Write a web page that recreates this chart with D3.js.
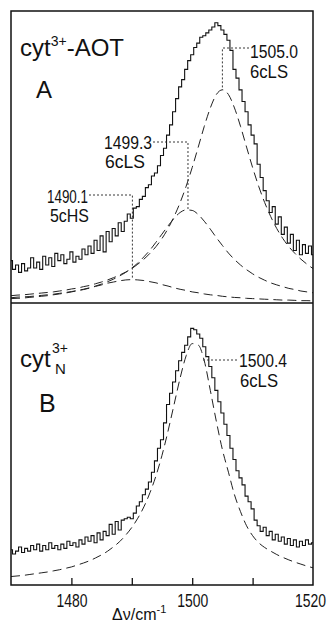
<!DOCTYPE html>
<html>
<head>
<meta charset="utf-8">
<script src="https://cdn.jsdelivr.net/npm/d3@7"></script>
<style>
  body { margin: 0; background: #fff; }
  svg { display: block; }
  text { font-family: "Liberation Sans", Arial, sans-serif; fill: #111; }
</style>
</head>
<body>
<div id="chart"></div>
<script>
// wavenumber grids (cm-1)
var specW = d3.range(1470, 1520.001, 0.5);
var fitW = d3.range(1470, 1520.001, 1);

// panel A: cyt3+-AOT measured spectrum (0.5 cm-1 steps)
var specA = [
  14.5, 11.5, 13.0, 10.5, 13.5, 11.0, 12.0, 15.5, 12.0, 14.0,
  11.5, 16.0, 13.0, 15.5, 12.5, 17.0, 14.5, 16.5, 13.5, 15.0,
  17.5, 14.0, 16.0, 15.0, 18.5, 16.5, 19.5, 17.0, 21.5, 18.0,
  23.0, 17.5, 24.5, 21.0, 25.5, 23.0, 27.5, 24.5, 28.0, 30.5,
  29.0, 32.5, 33.0, 35.5, 36.5, 39.5, 40.5, 43.5, 44.5, 47.0,
  50.5, 53.0, 57.5, 61.0, 65.5, 70.0, 74.0, 76.5, 80.0, 83.0,
  85.0, 87.5, 89.0, 91.0, 91.5, 92.5, 93.5, 94.5, 96.0, 95.0,
  93.5, 92.0, 90.0, 86.5, 80.0, 77.0, 73.0, 69.0, 65.5, 61.0,
  57.5, 54.5, 47.5, 43.0, 38.5, 35.0, 31.0, 33.0, 27.0, 29.5,
  23.5, 26.0, 20.5, 23.5, 18.0, 21.5, 16.5, 20.0, 17.0, 19.5,
  16.5
];

// panel A: fitted component bands (1 cm-1 steps)
var bandA1490 = [
  1.5, 1.6, 1.7, 1.9, 2.1, 2.3, 2.5, 2.8, 3.1, 3.4,
  3.8, 4.2, 4.6, 5.1, 5.7, 6.2, 6.8, 7.2, 7.6, 7.9,
  8.0, 7.9, 7.7, 7.3, 6.9, 6.3, 5.8, 5.2, 4.7, 4.3,
  3.8, 3.5, 3.1, 2.8, 2.6, 2.3, 2.1, 1.9, 1.8, 1.6,
  1.5, 1.4, 1.3, 1.2, 1.1, 1.0, 1.0, 0.9, 0.8, 0.8, 0.7
];
var bandA1499 = [
  1.8, 2.0, 2.1, 2.2, 2.4, 2.6, 2.8, 3.0, 3.3, 3.6,
  3.9, 4.3, 4.7, 5.2, 5.8, 6.5, 7.3, 8.2, 9.3, 10.5,
  12.0, 13.7, 15.8, 18.1, 20.8, 23.6, 26.4, 29.0, 31.0, 31.9,
  31.7, 30.3, 28.0, 25.3, 22.4, 19.7, 17.1, 14.9, 13.0, 11.4,
  10.0, 8.8, 7.8, 6.9, 6.2, 5.6, 5.0, 4.6, 4.1, 3.8, 3.5
];
var bandA1505 = [
  2.5, 2.7, 2.8, 3.0, 3.2, 3.4, 3.6, 3.8, 4.1, 4.4,
  4.8, 5.1, 5.6, 6.0, 6.6, 7.2, 7.9, 8.7, 9.6, 10.6,
  11.8, 13.3, 15.0, 17.0, 19.3, 22.1, 25.5, 29.6, 34.4, 40.0,
  46.4, 53.4, 60.5, 66.8, 71.4, 73.0, 71.4, 66.8, 60.5, 53.4,
  46.4, 40.0, 34.4, 29.6, 25.5, 22.1, 19.3, 17.0, 15.0, 13.3, 11.8
];

// panel B: cyt3+ native measured spectrum and fit
var specB = [
  12.5, 11.0, 12.0, 13.5, 11.5, 13.0, 12.0, 14.0, 12.5, 14.5,
  12.0, 14.0, 12.5, 15.0, 13.0, 14.0, 12.5, 14.5, 13.0, 15.5,
  14.0, 15.0, 13.5, 16.0, 14.5, 17.0, 15.5, 17.5, 15.0, 18.5,
  16.0, 19.0, 17.5, 21.5, 18.0, 22.5, 19.5, 23.0, 23.5, 24.0,
  23.5, 25.5, 28.0, 29.5, 32.0, 34.0, 36.5, 40.0, 44.0, 48.5,
  51.5, 57.5, 64.0, 68.0, 72.0, 76.0, 79.5, 82.5, 85.0, 88.0,
  91.0, 90.5, 89.0, 87.5, 84.5, 81.0, 77.5, 73.5, 69.0, 65.0,
  61.0, 57.0, 53.0, 48.5, 44.5, 40.5, 38.0, 35.5, 31.5, 29.5,
  27.0, 23.0, 21.0, 19.0, 20.5, 17.5, 19.0, 16.0, 18.0, 15.5,
  17.0, 14.5, 16.5, 14.0, 16.0, 13.5, 15.5, 14.0, 16.0, 14.5,
  15.0
];
var fitB1500 = [
  3.0, 3.2, 3.4, 3.7, 4.0, 4.3, 4.6, 5.0, 5.4, 5.9,
  6.4, 7.1, 7.8, 8.6, 9.6, 10.7, 12.0, 13.6, 15.4, 17.7,
  20.4, 23.7, 27.7, 32.7, 38.7, 46.0, 54.6, 64.0, 73.4, 81.3,
  85.6, 85.1, 79.5, 69.0, 58.0, 48.0, 40.0, 32.0, 26.0, 21.0,
  17.5, 15.0, 13.3, 12.0, 10.8, 9.8, 8.9, 8.1, 7.4, 6.7, 6.1
];

// axis ticks
var xTicks = [1480, 1490, 1500, 1510];
var xTickLabels = [1480, 1500, 1520];

var width = 333, height = 625;
var left = 11, right = 313;
var topA = 11, midY = 303, bottomB = 585;

var svg = d3
  .select("#chart")
  .append("svg")
  .attr("width", width)
  .attr("height", height);

var x = d3.scaleLinear().domain([1470, 1520]).range([left, right]);
var yA = d3.scaleLinear().domain([0, 100]).range([midY, topA]);
var yB = d3.scaleLinear().domain([0, 100]).range([bottomB, midY]);

// clip each panel
var defs = svg.append("defs");
defs.append("clipPath").attr("id", "clipA")
  .append("rect").attr("x", left).attr("y", topA)
  .attr("width", right - left).attr("height", midY - topA);
defs.append("clipPath").attr("id", "clipB")
  .append("rect").attr("x", left).attr("y", midY)
  .attr("width", right - left).attr("height", bottomB - midY);

function stepLine(yScale) {
  return d3.line()
    .x(function (d, i) { return x(specW[i]); })
    .y(function (d) { return yScale(d); })
    .curve(d3.curveStep);
}
function fitLine(yScale) {
  return d3.line()
    .x(function (d, i) { return x(fitW[i]); })
    .y(function (d) { return yScale(d); })
    .curve(d3.curveMonotoneX);
}

// panel A
var gA = svg.append("g").attr("clip-path", "url(#clipA)");
gA.selectAll(".bandA")
  .data([bandA1490, bandA1499, bandA1505])
  .enter()
  .append("path")
  .attr("class", "bandA")
  .attr("fill", "none")
  .attr("stroke", "#222")
  .attr("stroke-width", 1)
  .attr("stroke-dasharray", "9,5")
  .attr("d", fitLine(yA));
gA.append("path")
  .datum(specA)
  .attr("fill", "none")
  .attr("stroke", "#111")
  .attr("stroke-width", 1.1)
  .attr("d", stepLine(yA));

// panel B
var gB = svg.append("g").attr("clip-path", "url(#clipB)");
gB.append("path")
  .datum(fitB1500)
  .attr("fill", "none")
  .attr("stroke", "#222")
  .attr("stroke-width", 1)
  .attr("stroke-dasharray", "9,5")
  .attr("d", fitLine(yB));
gB.append("path")
  .datum(specB)
  .attr("fill", "none")
  .attr("stroke", "#111")
  .attr("stroke-width", 1.1)
  .attr("d", stepLine(yB));

// frames
svg.append("rect")
  .attr("x", left).attr("y", topA)
  .attr("width", right - left).attr("height", bottomB - topA)
  .attr("fill", "none").attr("stroke", "#111").attr("stroke-width", 1.5);
svg.append("line")
  .attr("x1", left).attr("x2", right).attr("y1", midY).attr("y2", midY)
  .attr("stroke", "#111").attr("stroke-width", 1.5);

// x axis: inward ticks and labels
var axisG = svg.append("g").attr("transform", "translate(0," + bottomB + ")");
axisG.append("g")
  .call(d3.axisTop(x).tickValues(xTicks).tickSize(7).tickFormat(""))
  .call(function (g) { g.select(".domain").remove(); })
  .selectAll("line").attr("stroke", "#111").attr("stroke-width", 1.3);
axisG.append("g")
  .call(d3.axisBottom(x).tickValues(xTickLabels).tickSize(0).tickPadding(9)
    .tickFormat(d3.format("d")))
  .call(function (g) { g.select(".domain").remove(); })
  .selectAll("text")
  .attr("font-size", 19)
  .attr("font-family", "Liberation Sans, Arial, sans-serif")
  .attr("fill", "#111")
  .attr("dx", function (d) { return d === 1520 ? -3 : 0; })
  .attr("textLength", 31)
  .attr("lengthAdjust", "spacingAndGlyphs");

var xl = svg.append("text")
  .attr("x", 112).attr("y", 620)
  .attr("font-size", 16);
xl.append("tspan").text("Δν/cm");
xl.append("tspan").attr("dy", -7).attr("font-size", 11).text("-1");

// dotted leaders to band centres
function leader(x1, x2, yH, yEnd) {
  var p = "M" + x1 + "," + yH + "H" + x2 + (yEnd != null ? "V" + yEnd : "");
  svg.append("path")
    .attr("d", p)
    .attr("fill", "none")
    .attr("stroke", "#222")
    .attr("stroke-width", 0.9)
    .attr("stroke-dasharray", "2,2");
}
function label(t, xp, yp, len) {
  svg.append("text")
    .attr("x", xp).attr("y", yp)
    .attr("font-size", 18)
    .attr("textLength", len)
    .attr("lengthAdjust", "spacingAndGlyphs")
    .text(t);
}

leader(249, x(1505.0), 48, yA(73));
label("1505.0", 250, 58, 48);
label("6cLS", 250, 78, 38);

leader(153, x(1499.3), 142, yA(32));
label("1499.3", 104, 149, 48);
label("6cLS", 105, 168, 40);

leader(89, x(1490.1), 195, yA(8));
label("1490.1", 47, 203, 41);
label("5cHS", 50, 222, 39);

leader(237, x(1501.8), 360, null);
label("1500.4", 239, 367, 48);
label("6cLS", 240, 387, 38);

// sample labels
var tA = svg.append("text").attr("x", 20).attr("y", 56).attr("font-size", 24);
tA.append("tspan").text("cyt");
tA.append("tspan").attr("dy", -10).attr("font-size", 14).text("3+");
tA.append("tspan").attr("dy", 10).text("-AOT");
svg.append("text").attr("x", 36).attr("y", 98).attr("font-size", 24).text("A");

svg.append("text").attr("x", 20).attr("y", 367).attr("font-size", 24).text("cyt");
svg.append("text").attr("x", 52).attr("y", 353).attr("font-size", 14).text("3+");
svg.append("text").attr("x", 55).attr("y", 374).attr("font-size", 15).text("N");
svg.append("text").attr("x", 39).attr("y", 412).attr("font-size", 25).text("B");
</script>
</body>
</html>
